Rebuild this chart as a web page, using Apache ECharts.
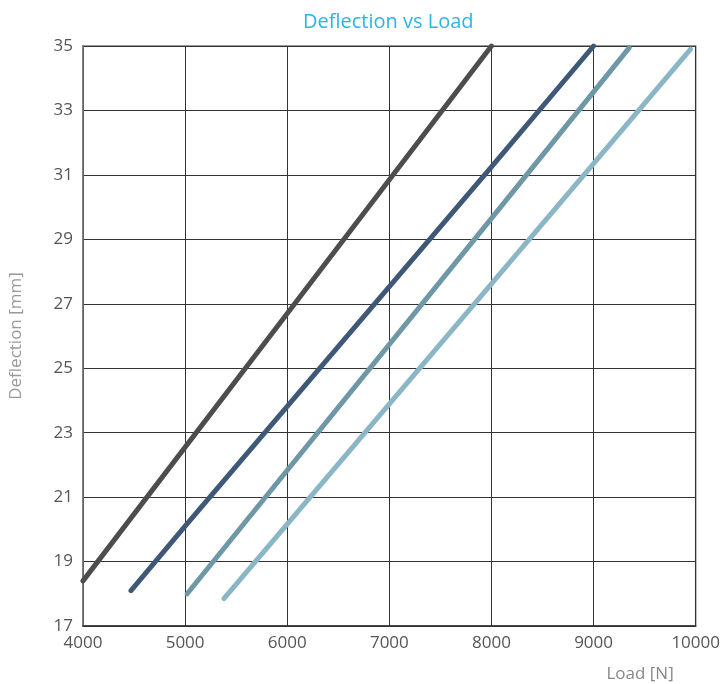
<!DOCTYPE html>
<html>
<head>
<meta charset="utf-8">
<script src="https://cdn.jsdelivr.net/npm/echarts@6/dist/echarts.min.js"></script>
<style>html,body{margin:0;padding:0;background:#fff;}#c{width:723px;height:684px;}</style>
</head>
<body>
<div id="c"></div>
<script>
const seriesNames = ['S1', 'S2', 'S3', 'S4'];
const line1 = [[4000, 18.4], [6000, 26.7], [7000, 30.85], [8000, 35.0]];
const line2 = [[4470, 18.1], [5000, 20.1], [8000, 31.25], [9000, 35.0]];
const line3 = [[5020, 18.0], [8000, 29.65], [9350, 34.95]];
const line4 = [[5380, 17.85], [9000, 31.35], [9950, 34.9]];
const colors = ['#4d4d4d', '#3f5877', '#6f98a6', '#8bb6c6'];
const xTicks = [4000, 10000, 1000];
const yTicks = [17, 35, 2];

const chart = echarts.init(document.getElementById('c'));
const font = '"Open Sans", Lato, sans-serif';
chart.setOption({
  animation: false,
  title: {
    text: 'Deflection vs Load', left: 298, top: 7,
    textStyle: { color: '#29b6e6', fontSize: 20, fontWeight: 'normal', fontFamily: font }
  },
  grid: { left: 80, right: 26, top: 46, bottom: 58, show: true, borderColor: '#777', borderWidth: 1.5 },
  xAxis: {
    type: 'value', min: xTicks[0], max: xTicks[1], interval: xTicks[2],
    name: 'Load [N]', nameLocation: 'end',
    nameTextStyle: { color: '#888', fontSize: 17, fontFamily: font, align: 'right', verticalAlign: 'top', padding: [40, 22, 0, 0] },
    nameGap: 0,
    axisLine: { show: true, lineStyle: { color: '#333', width: 1.5 } },
    axisTick: { show: false },
    axisLabel: { color: '#555', fontSize: 17, fontFamily: font, margin: 9, formatter: v => String(v) },
    splitLine: { show: true, lineStyle: { color: '#333', width: 1 } }
  },
  yAxis: {
    type: 'value', min: yTicks[0], max: yTicks[1], interval: yTicks[2],
    name: 'Deflection [mm]', nameLocation: 'middle', nameGap: 58,
    nameTextStyle: { color: '#999', fontSize: 17, fontFamily: font },
    axisLine: { show: true, lineStyle: { color: '#777', width: 1.5 } },
    axisTick: { show: false },
    axisLabel: { color: '#555', fontSize: 17, fontFamily: font, margin: 10 },
    splitLine: { show: true, lineStyle: { color: '#333', width: 1 } }
  },
  series: [line1, line2, line3, line4].map((d, i) => ({
    name: seriesNames[i], type: 'line', data: d, showSymbol: false, symbol: 'none',
    lineStyle: { color: colors[i], width: 5, cap: 'round' }, z: 3
  }))
});
</script>
</body>
</html>
